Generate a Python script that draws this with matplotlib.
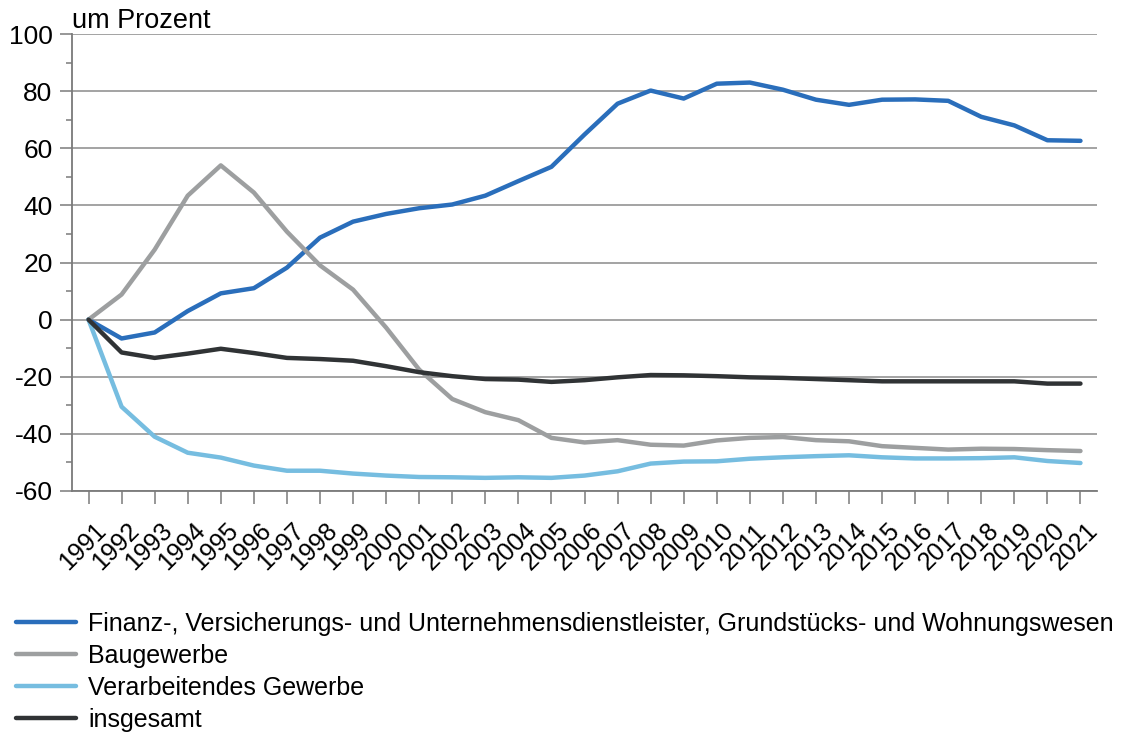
import numpy as np
import matplotlib as mpl
mpl.use('Agg')
import matplotlib.pyplot as plt
from matplotlib.ticker import MultipleLocator
from matplotlib.transforms import ScaledTranslation

plt.rcParams['font.family'] = ['Liberation Sans', 'DejaVu Sans']
plt.rcParams['axes.unicode_minus'] = False

# =============================================================================
# Data (Veraenderung gegenueber 1991, in Prozent)
years = list(range(1991, 2022))

finanz = [0, -6.6, -4.5, 3.0, 9.2, 11.0, 18.2, 28.7, 34.3, 37.0,
          39.0, 40.3, 43.4, 48.5, 53.5, 64.8, 75.6, 80.2, 77.4, 82.6,
          83.0, 80.5, 77.0, 75.2, 77.0, 77.1, 76.6, 71.0, 68.0, 62.8,
          62.6]
bau = [0, 8.8, 24.5, 43.4, 54.0, 44.5, 30.8, 19.0, 10.5, -2.8,
       -17.5, -27.8, -32.4, -35.2, -41.4, -43.0, -42.2, -43.8, -44.1, -42.3,
       -41.4, -41.1, -42.2, -42.6, -44.3, -44.9, -45.5, -45.2, -45.3, -45.7,
       -46.0]
verarb = [0, -30.5, -41.0, -46.6, -48.3, -51.1, -52.9, -52.9, -53.9, -54.6,
          -55.1, -55.2, -55.4, -55.2, -55.4, -54.6, -53.1, -50.4, -49.7, -49.6,
          -48.7, -48.2, -47.8, -47.5, -48.2, -48.6, -48.6, -48.5, -48.2, -49.5,
          -50.2]
gesamt = [0, -11.5, -13.4, -11.9, -10.2, -11.7, -13.4, -13.8, -14.4, -16.3,
          -18.4, -19.8, -20.8, -21.0, -21.8, -21.2, -20.2, -19.4, -19.5, -19.8,
          -20.2, -20.4, -20.8, -21.2, -21.6, -21.6, -21.6, -21.6, -21.6, -22.4,
          -22.4]

labels = ["Finanz-, Versicherungs- und Unternehmensdienstleister, Grundstücks- und Wohnungswesen",
          "Baugewerbe", "Verarbeitendes Gewerbe", "insgesamt"]
colors = ["#2a6ebb", "#9d9fa0", "#76bde0", "#303335"]

# =============================================================================
fig = plt.figure(figsize=(11.21, 7.33), dpi=100)
ax = fig.add_axes([72/1121, 1 - 491/733, (1097 - 72)/1121, (491 - 34)/733])

x = np.arange(len(years))
for series, lab, col in zip([finanz, bau, verarb, gesamt], labels, colors):
    ax.plot(x, series, color=col, lw=3.2, label=lab, solid_capstyle='round')

ax.set_xlim(-0.5, len(years) - 0.5)
ax.set_ylim(-60, 100)
ax.yaxis.set_major_locator(MultipleLocator(20))
ax.yaxis.set_minor_locator(MultipleLocator(10))
ax.grid(axis='y', which='major', color='#8a8a8a', lw=1.1)
ax.set_axisbelow(True)

for side in ['top', 'right']:
    ax.spines[side].set_visible(False)
for side in ['left', 'bottom']:
    ax.spines[side].set_color('#7a7a7a')
    ax.spines[side].set_linewidth(1.3)

ax.tick_params(axis='y', which='major', length=9, width=1.1, color='#7a7a7a',
               labelsize=19, pad=5)
ax.tick_params(axis='y', which='minor', length=4.5, width=1.1, color='#7a7a7a')
ax.tick_params(axis='x', length=9, width=1.1, color='#7a7a7a', labelsize=18, pad=31)

ax.set_xticks(x)
ax.set_xticklabels([str(y) for y in years], rotation=45, ha='center', va='center',
                   rotation_mode='anchor')
offset = ScaledTranslation(-6/100, 0, fig.dpi_scale_trans)
for t in ax.get_xticklabels():
    t.set_transform(t.get_transform() + offset)

fig.text(72/1121, 1 - 28/733, "um Prozent", fontsize=19.5, va='baseline')

fig.legend(loc='upper left', bbox_to_anchor=(16/1121, 1 - 612/733), frameon=False,
           fontsize=18, handlelength=2.4, handletextpad=0.5, labelspacing=0.32,
           borderaxespad=0, borderpad=0)

fig.savefig("out.png", dpi=100)
